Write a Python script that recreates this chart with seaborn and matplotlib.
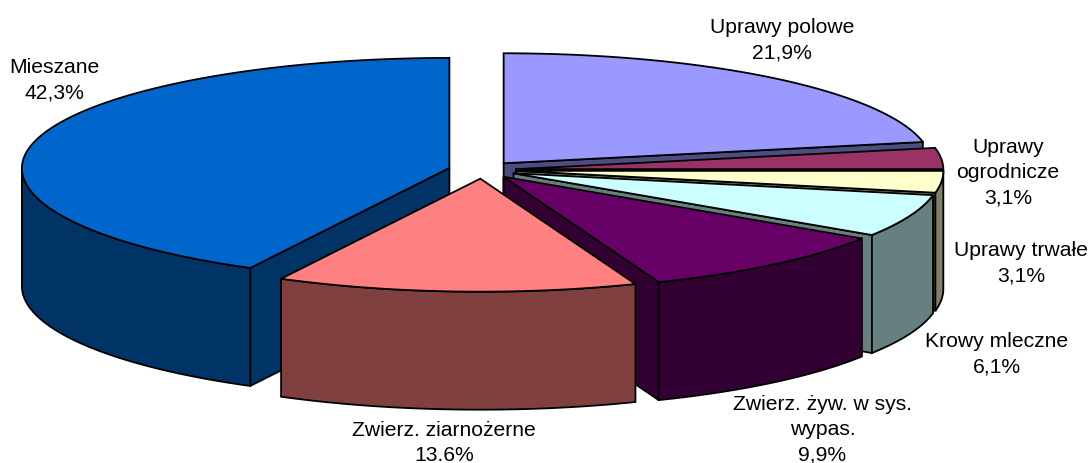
import numpy as np
import matplotlib
matplotlib.use("Agg")
import matplotlib.pyplot as plt
import seaborn as sns

# dane - kolejnosc zgodnie z ruchem wskazowek od godziny 12
categories = ["Uprawy polowe", "Uprawy\nogrodnicze", "Uprawy trwałe", "Krowy mleczne",
              "Zwierz. żyw. w sys.\nwypas.", "Zwierz. ziarnożerne", "Mieszane"]
values = [21.9, 3.1, 3.1, 6.1, 9.9, 13.6, 42.3]
value_labels = ["21,9%", "3,1%", "3,1%", "6,1%", "9,9%", "13.6%", "42,3%"]
top_colors = ["#9999FF", "#993366", "#FFFFCC", "#CCFFFF", "#660066", "#FF8080", "#0066CC"]
side_colors = ["#4D4D80", "#4D1A33", "#808066", "#668080", "#330033", "#804040", "#003366"]

# uklad (piksele)
label_pos = [(782, 40), (1008, 173), (1021, 263.5), (996.5, 354), (822.5, 429.5), (444, 443), (54.5, 80.5)]
CX, CY = 482.2, 170.0
RX, RY = 427.5, 110
RY_FRONT = 113      # przod kola lekko wiekszy (perspektywa)
PERSP = 0.002
EXPLODE = 0.079
DEPTH = 118


def rim(t, ox, oy):
    c = np.cos(t)
    x = ox + RX * (1 - PERSP * c) * np.sin(t)
    y = oy - np.where(c > 0, RY, RY_FRONT) * c
    return x, y


def draw_face(ax, x, y, color):
    ax.fill(x, y, facecolor=color, edgecolor="black", linewidth=1.3, joinstyle="miter")


def draw_slice(ax, start, end, top, side):
    mid = (start + end) / 2
    ox = CX + RX * EXPLODE * np.sin(mid)
    oy = CY - RY * EXPLODE * np.cos(mid)

    # sciany przekroju widoczne tylko gdy zwrocone do widza
    for t, visible in ((end, np.sin(end) > 0), (start, np.sin(start) < 0)):
        if visible:
            rx, ry = rim(t, ox, oy)
            draw_face(ax, [ox, rx, rx, ox], [oy, ry, ry + DEPTH, oy + DEPTH], side)

    # sciana zewnetrzna - czesc luku w przedniej polowce
    lo, hi = max(start, np.pi / 2), min(end, 3 * np.pi / 2)
    if hi > lo:
        t = np.linspace(lo, hi, 120)
        ax_x, ax_y = rim(t, ox, oy)
        draw_face(ax, np.r_[ax_x, ax_x[::-1]], np.r_[ax_y, ax_y[::-1] + DEPTH], side)

    t = np.linspace(start, end, 200)
    x, y = rim(t, ox, oy)
    draw_face(ax, np.r_[ox, x], np.r_[oy, y], top)


sns.set_theme(style="white")
plt.rcParams["font.family"] = ["Liberation Sans", "DejaVu Sans"]

fig = plt.figure(figsize=(10.89, 4.63), dpi=100)
ax = fig.add_axes([0, 0, 1, 1])
ax.set_xlim(0, 1089)
ax.set_ylim(463, 0)
ax.axis("off")

edges = np.r_[0, np.cumsum(values)] / np.sum(values) * 2 * np.pi
# kolejnosc malowania: od tylu do przodu
for i in [6, 0, 1, 2, 3, 4, 5]:
    draw_slice(ax, edges[i], edges[i + 1], top_colors[i], side_colors[i])

for name, val, (x, y) in zip(categories, value_labels, label_pos):
    ax.text(x, y, f"{name}\n{val}", ha="center", va="center", fontsize=15.2,
            color="black", linespacing=1.41)

plt.savefig("out.png", dpi=100)
plt.close()
